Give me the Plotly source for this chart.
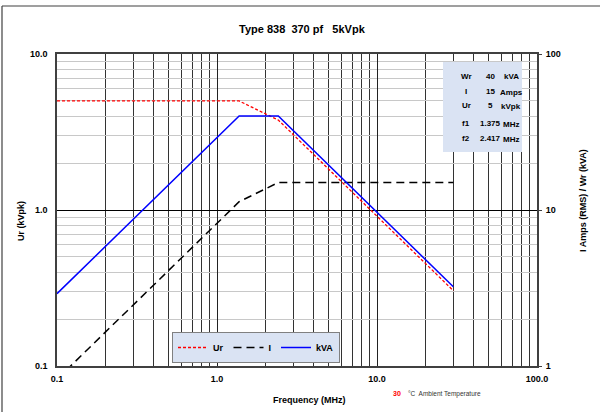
import plotly.graph_objects as go

# ---- data ----
freq = [0.1, 1.375, 2.417, 30.0]          # MHz
ur_kvpk = [5.0, 5.0, 3.77, 0.304]          # left axis
i_amps = [0.822, 11.3, 15.0, 15.0]         # right axis
wr_kva = [2.91, 40.0, 40.0, 3.22]          # right axis

x_tickvals = [0.1, 1, 10, 100]
x_ticktext = ["0.1", "1.0", "10.0", "100.0"]
yl_tickvals = [0.1, 1, 10]
yl_ticktext = ["0.1", "1.0", "10.0"]
yr_tickvals = [1, 10, 100]
yr_ticktext = ["1", "10", "100"]

info_labels = ["Wr", "I", "Ur", "f1", "f2"]
info_values = ["40", "15", "5", "1.375", "2.417"]
info_units = ["kVA", "Amps", "kVpk", "MHz", "MHz"]

title_text = "Type 838\u00a0\u00a0370 pf\u00a0\u00a0\u00a05kVpk"

FONT = "Liberation Sans, Arial, sans-serif"
W, H = 600, 412
L, R, T, B = 57, 63, 54, 46
PW, PH = W - L - R, H - T - B


def px(xp):
    return (xp - L) / PW


def py(yp):
    return (H - B - yp) / PH


fig = go.Figure()
fig.add_trace(go.Scatter(x=freq, y=ur_kvpk, name="Ur", mode="lines",
                         line=dict(color="#ff0000", width=1.3, dash="3px,2px")))
fig.add_trace(go.Scatter(x=freq, y=i_amps, name="I", mode="lines", yaxis="y2",
                         line=dict(color="#000000", width=1.5, dash="8px,5px")))
fig.add_trace(go.Scatter(x=freq, y=wr_kva, name="kVA", mode="lines", yaxis="y2",
                         line=dict(color="#0000ff", width=1.5)))

tickfont = dict(family=FONT, size=9, color="#000000", weight="bold")

fig.update_layout(
    width=W, height=H,
    margin=dict(l=L, r=R, t=T, b=B, pad=0),
    paper_bgcolor="white", plot_bgcolor="white",
    font=dict(family=FONT, color="#000"),
    xaxis=dict(type="log", range=[-1, 2], tickvals=x_tickvals, ticktext=x_ticktext,
               tickfont=tickfont, ticks="", showgrid=True, gridcolor="#222222", gridwidth=1,
               minor=dict(dtick="D1", showgrid=True, gridcolor="#333333", gridwidth=1, ticks=""),
               showline=True, linecolor="#404040", linewidth=1.5, mirror=True,
               zeroline=False, ticklabelstandoff=3, automargin=False),
    yaxis=dict(type="log", range=[-1, 1], tickvals=yl_tickvals, ticktext=yl_ticktext,
               tickfont=tickfont, ticks="", showgrid=True, gridcolor="#000000", gridwidth=1,
               minor=dict(dtick="D1", showgrid=True, gridcolor="#c8c8c8", gridwidth=1, ticks=""),
               showline=True, linecolor="#404040", linewidth=1.5, mirror=True,
               zeroline=False, ticklabelstandoff=6, automargin=False),
    yaxis2=dict(type="log", range=[0, 2], tickvals=yr_tickvals, ticktext=yr_ticktext,
                overlaying="y", side="right", showgrid=False, zeroline=False,
                tickfont=tickfont, ticks="outside", ticklen=4, tickcolor="#404040",
                ticklabelstandoff=2, automargin=False),
    legend=dict(orientation="h", x=px(172), y=py(332), xanchor="left", yanchor="top",
                bgcolor="#dae3f3", bordercolor="#808080", borderwidth=1,
                font=dict(family=FONT, size=9, color="#000", weight="bold"),
                itemwidth=30, traceorder="normal"),
    showlegend=True,
)

shapes = []
# info box
shapes.append(dict(type="rect", xref="paper", yref="paper", x0=px(443), x1=px(522),
                   y0=py(152), y1=py(62), fillcolor="#dae3f3", line=dict(width=0), layer="above"))
# outer border (left and top only visible)
shapes.append(dict(type="line", xref="paper", yref="paper", x0=px(2), x1=px(2),
                   y0=py(420), y1=py(6), line=dict(color="#404040", width=1.2)))
shapes.append(dict(type="line", xref="paper", yref="paper", x0=px(2), x1=px(620),
                   y0=py(6), y1=py(6), line=dict(color="#404040", width=1.2)))
fig.update_layout(shapes=shapes)

ann = []
ann.append(dict(text="<b>" + title_text + "</b>", xref="paper", yref="paper",
                x=px(302), y=py(29), showarrow=False, font=dict(family=FONT, size=11),
                xanchor="center", yanchor="middle"))
# axis titles
ann.append(dict(text="<b>Frequency (MHz)</b>", xref="paper", yref="paper", x=px(309), y=py(400),
                showarrow=False, font=dict(family=FONT, size=9), xanchor="center", yanchor="middle"))
ann.append(dict(text="<b>Ur (kVpk)</b>", xref="paper", yref="paper", x=px(21), y=py(221),
                showarrow=False, textangle=-90, font=dict(family=FONT, size=9),
                xanchor="center", yanchor="middle"))
ann.append(dict(text="<b>I Amps (RMS) / Wr (kVA)</b>", xref="paper", yref="paper", x=px(583), y=py(201),
                showarrow=False, textangle=-90, font=dict(family=FONT, size=9),
                xanchor="center", yanchor="middle"))
rows_y = [76, 91, 106, 123, 138]
for lab, val, unit, yy in zip(info_labels, info_values, info_units, rows_y):
    ann.append(dict(text="<b>" + lab + "</b>", xref="paper", yref="paper", x=px(466), y=py(yy),
                    showarrow=False, font=dict(family=FONT, size=8), xanchor="center", yanchor="middle"))
    ann.append(dict(text="<b>" + val + "</b>", xref="paper", yref="paper", x=px(490), y=py(yy),
                    showarrow=False, font=dict(family=FONT, size=8), xanchor="center", yanchor="middle"))
    ann.append(dict(text="<b>" + unit + "</b>", xref="paper", yref="paper", x=px(511), y=py(yy + 1),
                    showarrow=False, font=dict(family=FONT, size=8), xanchor="center", yanchor="middle"))
ann.append(dict(text="<b>30</b>", xref="paper", yref="paper", x=px(397), y=py(394),
                showarrow=False, font=dict(family=FONT, size=7, color="#ff0000"),
                xanchor="center", yanchor="middle"))
ann.append(dict(text="\u00b0C\u00a0 Ambient Temperature", xref="paper", yref="paper", x=px(406), y=py(394),
                showarrow=False, font=dict(family=FONT, size=6.5, color="#333333"),
                xanchor="left", yanchor="middle"))
fig.update_layout(annotations=ann)

fig.write_html("out.html")
